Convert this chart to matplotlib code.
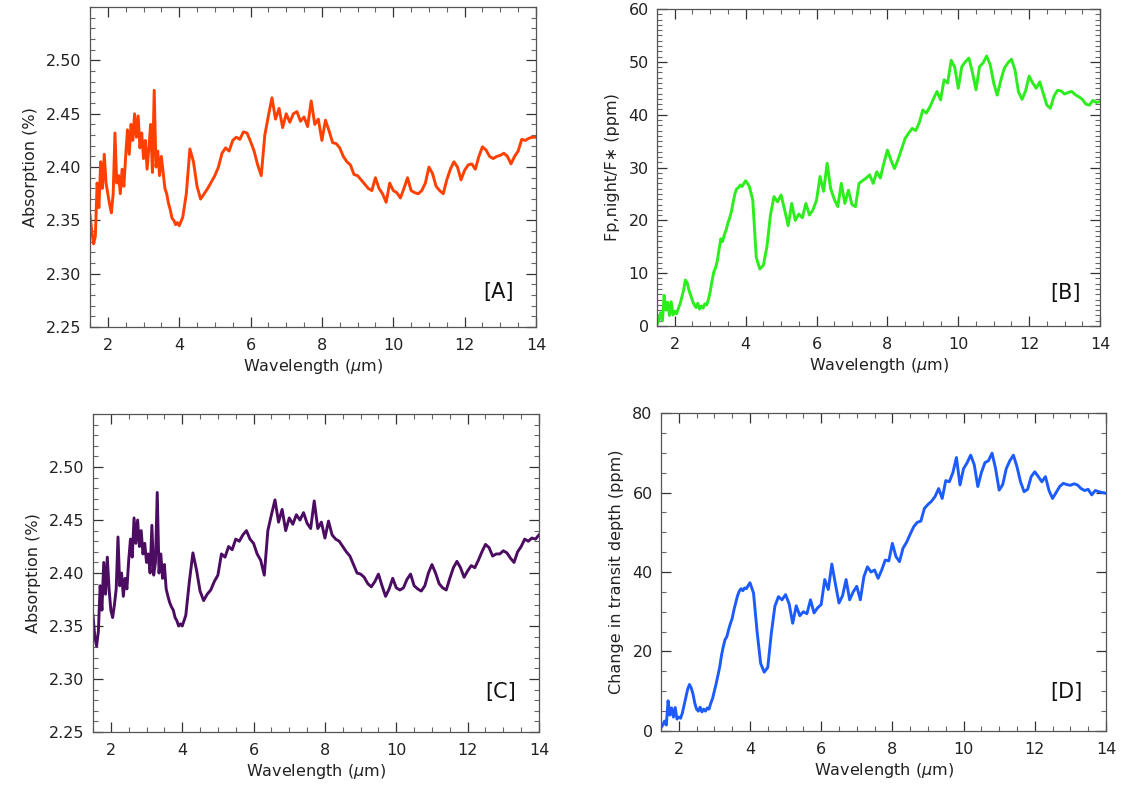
import numpy as np
import matplotlib
matplotlib.use('Agg')
import matplotlib.pyplot as plt
from matplotlib.ticker import MultipleLocator

# wavelength grid (um): finer sampling in the noisy short-wavelength part
wave_short = np.round(np.arange(1.5, 3.99, 0.05), 2)
wave_long = np.round(np.arange(4.0, 14.01, 0.1), 2)
wave = np.concatenate([wave_short, wave_long])

# [A] absorption (%)
absA = [2.355, 2.340, 2.328, 2.335, 2.385, 2.362, 2.405, 2.380, 2.412, 2.385,
        2.375, 2.365, 2.357, 2.375, 2.432, 2.385, 2.392, 2.375, 2.398, 2.382,
        2.410, 2.435, 2.412, 2.440, 2.425, 2.450, 2.428, 2.448, 2.418, 2.432,
        2.408, 2.425, 2.398, 2.418, 2.440, 2.395, 2.472, 2.400, 2.415, 2.392,
        2.410, 2.395, 2.380, 2.375, 2.366, 2.360, 2.352, 2.350, 2.346, 2.348,
        2.345, 2.353, 2.375, 2.417, 2.405, 2.382, 2.370, 2.375, 2.380, 2.386,
        2.392, 2.400, 2.413, 2.418, 2.415, 2.425, 2.428, 2.426, 2.433, 2.432,
        2.424, 2.415, 2.402, 2.392, 2.430, 2.448, 2.465, 2.445, 2.455, 2.437,
        2.450, 2.442, 2.450, 2.452, 2.443, 2.447, 2.438, 2.462, 2.440, 2.445,
        2.425, 2.444, 2.434, 2.423, 2.422, 2.418, 2.410, 2.405, 2.402, 2.393,
        2.392, 2.388, 2.384, 2.380, 2.378, 2.390, 2.380, 2.375, 2.367, 2.385,
        2.378, 2.376, 2.371, 2.380, 2.390, 2.378, 2.376, 2.375, 2.378, 2.385,
        2.400, 2.394, 2.382, 2.378, 2.375, 2.388, 2.398, 2.405, 2.400, 2.388,
        2.397, 2.402, 2.403, 2.398, 2.410, 2.419, 2.416, 2.410, 2.408, 2.410,
        2.411, 2.413, 2.410, 2.403, 2.410, 2.415, 2.426, 2.425, 2.427, 2.428,
        2.428]

# [B] night-side emission (ppm)
fluxB = [0.3, 1.2, 2.5, 1.0, 5.8, 3.0, 4.5, 2.0, 4.6, 2.1,
         2.8, 2.3, 3.3, 4.2, 5.5, 6.8, 8.7, 8.2, 6.8, 5.8,
         4.8, 4.0, 3.5, 4.3, 3.2, 3.8, 3.4, 4.2, 4.0, 5.0,
         6.5, 8.5, 10.2, 11.0, 12.3, 14.5, 16.5, 16.0, 17.3, 18.2,
         19.5, 20.5, 21.7, 23.5, 25.1, 26.0, 26.2, 26.7, 26.4, 27.0,
         27.5, 26.5, 23.9, 13.0, 10.8, 11.5, 15.0, 21.0, 24.5, 23.5,
         24.8, 22.0, 19.0, 23.2, 20.0, 21.2, 20.5, 23.2, 21.0, 22.0,
         23.8, 28.3, 25.5, 30.8, 26.0, 24.0, 22.6, 27.0, 23.2, 25.7,
         23.0, 22.6, 27.0, 27.5, 28.0, 28.6, 27.0, 29.2, 28.0, 30.8,
         33.3, 31.4, 29.8, 31.5, 33.5, 35.5, 36.5, 37.4, 37.0, 38.5,
         40.9, 40.3, 41.5, 43.0, 44.4, 42.8, 46.6, 46.0, 50.3, 49.0,
         45.0, 49.1, 50.0, 50.7, 48.0, 44.7, 49.1, 49.8, 51.1, 49.5,
         46.0, 43.7, 46.5, 48.8, 49.8, 50.5, 48.5, 44.3, 42.9, 44.5,
         47.3, 46.0, 45.0, 46.2, 44.0, 41.8, 41.2, 43.5, 44.6, 44.5,
         43.9, 44.2, 44.4, 43.8, 43.4, 42.9, 42.0, 41.8, 42.7, 42.3,
         42.5]

# [C] absorption (%)
absC = [2.360, 2.340, 2.331, 2.345, 2.388, 2.365, 2.410, 2.380, 2.415, 2.385,
        2.365, 2.358, 2.370, 2.385, 2.434, 2.388, 2.400, 2.378, 2.395, 2.385,
        2.412, 2.432, 2.415, 2.452, 2.428, 2.450, 2.425, 2.440, 2.418, 2.428,
        2.410, 2.418, 2.400, 2.445, 2.398, 2.410, 2.476, 2.400, 2.418, 2.395,
        2.408, 2.385, 2.378, 2.372, 2.368, 2.365, 2.358, 2.355, 2.350, 2.352,
        2.350, 2.360, 2.392, 2.419, 2.403, 2.383, 2.374, 2.380, 2.384, 2.392,
        2.398, 2.418, 2.415, 2.425, 2.422, 2.432, 2.430, 2.436, 2.440, 2.432,
        2.428, 2.418, 2.412, 2.398, 2.440, 2.455, 2.469, 2.448, 2.460, 2.440,
        2.452, 2.446, 2.455, 2.450, 2.457, 2.447, 2.442, 2.468, 2.442, 2.448,
        2.433, 2.449, 2.436, 2.432, 2.430, 2.425, 2.420, 2.416, 2.408, 2.400,
        2.399, 2.396, 2.390, 2.387, 2.392, 2.399, 2.388, 2.378, 2.385, 2.395,
        2.386, 2.384, 2.386, 2.394, 2.399, 2.388, 2.385, 2.383, 2.388, 2.400,
        2.408, 2.400, 2.390, 2.386, 2.384, 2.395, 2.405, 2.411, 2.405, 2.396,
        2.402, 2.407, 2.405, 2.412, 2.420, 2.427, 2.424, 2.416, 2.418, 2.418,
        2.421, 2.419, 2.414, 2.410, 2.420, 2.425, 2.432, 2.430, 2.433, 2.432,
        2.436]

# [D] change in transit depth (ppm)
depthD = [0.8, 1.5, 2.5, 1.5, 7.6, 4.0, 5.8, 3.5, 5.9, 3.0,
          3.5, 3.2, 4.5, 6.5, 8.5, 10.5, 11.7, 10.8, 9.3, 7.0,
          5.5, 5.0, 6.0, 4.8, 5.5, 5.0, 5.8, 5.5, 7.0, 8.2,
          10.0, 11.9, 14.0, 16.1, 19.0, 21.2, 23.0, 23.7, 25.5, 27.0,
          28.3, 30.5, 32.2, 34.0, 35.2, 35.8, 35.3, 36.0, 35.8, 36.6,
          37.3, 34.7, 25.0, 17.0, 14.8, 16.0, 24.6, 31.4, 33.8, 33.0,
          34.3, 32.0, 27.1, 31.5, 29.0, 30.0, 29.5, 33.0, 29.7, 31.0,
          31.8, 38.1, 35.6, 42.0, 37.0, 32.2, 34.0, 38.1, 33.0, 35.0,
          36.4, 33.0, 38.8, 41.3, 40.0, 40.5, 38.4, 40.5, 43.0, 42.8,
          47.2, 43.9, 42.6, 46.0, 47.5, 49.5, 51.4, 52.5, 52.8, 56.0,
          57.0, 57.8, 59.0, 61.0, 58.5, 63.0, 62.7, 65.0, 68.8, 61.9,
          66.0, 67.5, 69.4, 67.0, 61.5, 65.0, 67.5, 68.0, 69.9, 66.0,
          60.6, 62.0, 66.0, 68.0, 69.4, 66.5, 62.7, 60.2, 60.8, 64.0,
          65.2, 64.0, 62.7, 64.0, 60.5, 58.5, 60.0, 61.5, 62.3, 62.0,
          61.8, 62.2, 61.9, 61.0, 60.5, 60.8, 59.4, 60.5, 60.2, 60.0,
          59.8]

x_ticks = [2, 4, 6, 8, 10, 12, 14]
abs_ticks = [2.25, 2.30, 2.35, 2.40, 2.45, 2.50]

plt.rcParams['font.family'] = 'DejaVu Sans'

fig = plt.figure(figsize=(11.22, 7.90), dpi=100)

panels = [
  # rect, y data, colour, ylabel, y limits, y ticks, minor step, tick format, tag, tag pos
  ([0.0802, 0.586, 0.3975, 0.405], absA, '#FF4000', 'Absorption (%)',
   (2.25, 2.55), abs_ticks, 0.01, '{:.2f}', '[A]', (0.917, 0.11)),
  ([0.5856, 0.5873, 0.3948, 0.4013], fluxB, '#2BEE1C', 'Fp,night/F\u2217 (ppm)',
   (0, 60), [0, 10, 20, 30, 40, 50, 60], 1, '{:.0f}', '[B]', (0.921, 0.104)),
  ([0.0829, 0.0734, 0.3975, 0.4025], absC, '#4B0C62', 'Absorption (%)',
   (2.25, 2.55), abs_ticks, 0.01, '{:.2f}', '[C]', (0.913, 0.126)),
  ([0.5891, 0.0747, 0.3966, 0.4025], depthD, '#1C5CFF', 'Change in transit depth (ppm)',
   (0, 80), [0, 20, 40, 60, 80], 5, '{:.0f}', '[D]', (0.912, 0.123)),
]

for rect, ydata, col, ylab, ylim, yt, ymin_step, fmt, tag, tagpos in panels:
  ax = fig.add_axes(rect)
  ax.plot(wave, ydata, color=col, lw=2.1, solid_joinstyle='round')
  ax.set_xlim(1.5, 14)
  ax.set_ylim(*ylim)
  ax.set_xticks(x_ticks)
  ax.set_xticklabels([str(t) for t in x_ticks])
  ax.set_yticks(yt)
  ax.set_yticklabels([fmt.format(t) for t in yt])
  ax.xaxis.set_minor_locator(MultipleLocator(0.5))
  ax.yaxis.set_minor_locator(MultipleLocator(ymin_step))
  ax.tick_params(which='both', direction='in', top=True, right=True,
                 colors='#333333', labelcolor='#222222', labelsize=11.5)
  ax.tick_params(which='major', length=7, width=0.9)
  ax.tick_params(which='minor', length=3.5, width=0.8, colors='#666666')
  ax.tick_params(axis='x', pad=8)
  ax.tick_params(axis='y', pad=6)
  for sp in ax.spines.values():
    sp.set_color('#555555')
    sp.set_linewidth(0.9)
  ax.set_xlabel(r'Wavelength ($\mu$m)', fontsize=11.5, color='#222222', labelpad=3)
  ax.set_ylabel(ylab, fontsize=11.5, color='#222222', labelpad=6)
  ax.text(tagpos[0], tagpos[1], tag, transform=ax.transAxes, fontsize=15,
          ha='center', va='center', color='#111111')

fig.savefig('out.png', dpi=100)
